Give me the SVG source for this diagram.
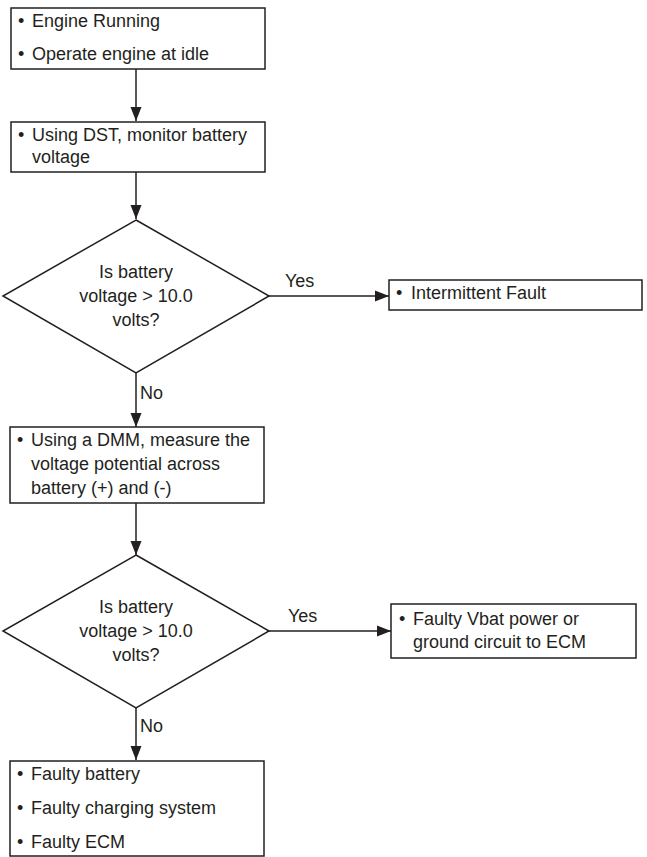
<svg xmlns="http://www.w3.org/2000/svg" width="647" height="857" viewBox="0 0 647 857">
<style>
.box{fill:#fff;stroke:#231f20;stroke-width:1.5}
.t{font-family:"Liberation Sans",Arial,sans-serif;font-size:18px;fill:#231f20}
.c{text-anchor:middle}
.ln{stroke:#231f20;stroke-width:1.5;fill:none}
</style>
<defs>
<marker id="ah" markerUnits="userSpaceOnUse" markerWidth="16" markerHeight="12" refX="14" refY="6" orient="auto">
<path d="M0,0.5 L14,6 L0,11.5 Z" fill="#231f20"/>
</marker>
</defs>
<rect width="647" height="857" fill="#fff"/>
<g id="connectors">
<line class="ln" x1="136" y1="69" x2="136" y2="121" marker-end="url(#ah)"/>
<line class="ln" x1="136" y1="172" x2="136" y2="219" marker-end="url(#ah)"/>
<line class="ln" x1="269" y1="296" x2="389" y2="296" marker-end="url(#ah)"/>
<text class="t" x="285" y="287">Yes</text>
<line class="ln" x1="136" y1="373" x2="136" y2="427" marker-end="url(#ah)"/>
<text class="t" x="140" y="399">No</text>
<line class="ln" x1="136" y1="503" x2="136" y2="555" marker-end="url(#ah)"/>
<line class="ln" x1="269" y1="631" x2="391" y2="631" marker-end="url(#ah)"/>
<text class="t" x="288" y="622">Yes</text>
<line class="ln" x1="136" y1="708" x2="136" y2="760" marker-end="url(#ah)"/>
<text class="t" x="140" y="732">No</text>
</g>
<g id="n1">
<rect class="box" x="11" y="8" width="254" height="61"/>
<text class="t"><tspan x="18" y="27">•</tspan><tspan x="32" y="27">Engine Running</tspan><tspan x="18" y="60">•</tspan><tspan x="32" y="60">Operate engine at idle</tspan></text>
</g>
<g id="n2">
<rect class="box" x="11" y="122" width="254" height="50"/>
<text class="t"><tspan x="18" y="141">•</tspan><tspan x="32" y="141">Using DST, monitor battery</tspan><tspan x="32" y="163">voltage</tspan></text>
</g>
<g id="d1">
<polygon class="box" points="136,220 269,296 136,373 3,296"/>
<text class="t c"><tspan x="136" y="278">Is battery</tspan><tspan x="136" y="302">voltage &gt; 10.0</tspan><tspan x="136" y="326">volts?</tspan></text>
</g>
<g id="n3">
<rect class="box" x="389" y="280" width="253" height="30"/>
<text class="t"><tspan x="396" y="299">•</tspan><tspan x="411" y="299">Intermittent Fault</tspan></text>
</g>
<g id="n4">
<rect class="box" x="10" y="427" width="254" height="76"/>
<text class="t"><tspan x="17" y="446">•</tspan><tspan x="31" y="446">Using a DMM, measure the</tspan><tspan x="31" y="470">voltage potential across</tspan><tspan x="31" y="494">battery (+) and (-)</tspan></text>
</g>
<g id="d2">
<polygon class="box" points="136,555 269,631 136,708 3,631"/>
<text class="t c"><tspan x="136" y="613">Is battery</tspan><tspan x="136" y="637">voltage &gt; 10.0</tspan><tspan x="136" y="661">volts?</tspan></text>
</g>
<g id="n5">
<rect class="box" x="391" y="604" width="245" height="54"/>
<text class="t"><tspan x="399" y="625">•</tspan><tspan x="413" y="625">Faulty Vbat power or</tspan><tspan x="413" y="648">ground circuit to ECM</tspan></text>
</g>
<g id="n6">
<rect class="box" x="10" y="761" width="254" height="95"/>
<text class="t"><tspan x="17" y="780">•</tspan><tspan x="31" y="780">Faulty battery</tspan><tspan x="17" y="814">•</tspan><tspan x="31" y="814">Faulty charging system</tspan><tspan x="17" y="848">•</tspan><tspan x="31" y="848">Faulty ECM</tspan></text>
</g>
</svg>
